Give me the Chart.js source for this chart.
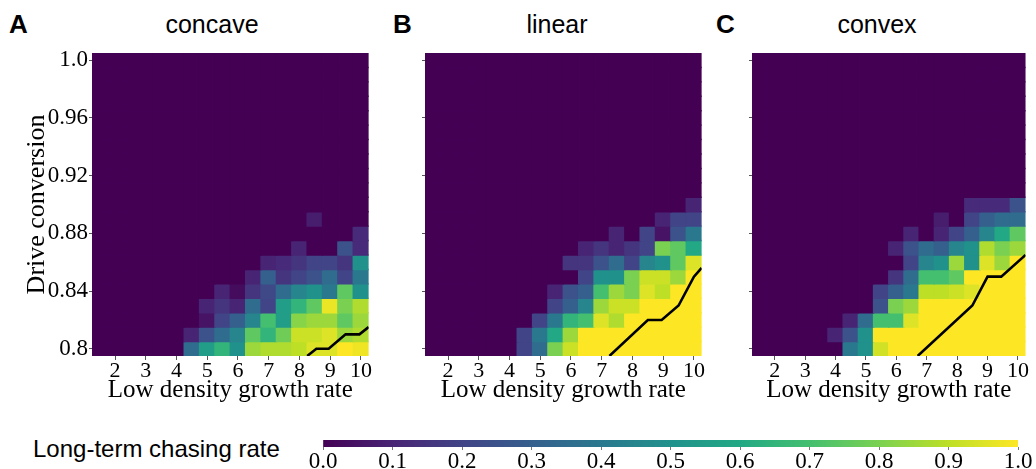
<!DOCTYPE html>
<html>
<head>
<meta charset="utf-8">
<script src="https://cdn.jsdelivr.net/npm/chart.js@4.4.1/dist/chart.umd.min.js"></script>
<style>
body{margin:0;background:#fff;width:1036px;height:469px;position:relative;overflow:hidden}
canvas{position:absolute}
.lbl{position:absolute;font-family:"Liberation Sans",Arial,sans-serif;white-space:nowrap;color:#000}
.letter{font-size:26px;line-height:26px;font-weight:bold;top:11px}
.ttl{font-size:25px;line-height:25px;top:12px;width:200px;text-align:center}
</style>
</head>
<body>
<div class="lbl letter" style="left:9px">A</div>
<div class="lbl letter" style="left:393px">B</div>
<div class="lbl letter" style="left:716px">C</div>
<div class="lbl ttl" style="left:112px">concave</div>
<div class="lbl ttl" style="left:457px">linear</div>
<div class="lbl ttl" style="left:777px">convex</div>
<div class="lbl" style="left:33px;top:437px;font-size:24px;line-height:24px">Long-term chasing rate</div>

<canvas id="chartA" width="372" height="410" style="left:0;top:0"></canvas>
<canvas id="chartB" width="325" height="410" style="left:380px;top:0"></canvas>
<canvas id="chartC" width="323" height="410" style="left:706px;top:0"></canvas>
<canvas id="cbar" width="736" height="33" style="left:300px;top:436px"></canvas>

<script>
// grid of the simulations
var xValues=[1.5,2,2.5,3,3.5,4,4.5,5,5.5,6,6.5,7,7.5,8,8.5,9,9.5,10];
var yValues=[0.80,0.81,0.82,0.83,0.84,0.85,0.86,0.87,0.88,0.89,0.90,0.91,0.92,0.93,0.94,0.95,0.96,0.97,0.98,0.99,1.00];
var xTicks=[2,3,4,5,6,7,8,9,10];
var xTickLabels=['2','3','4','5','6','7','8','9','10'];
var yTicks=[0.8,0.84,0.88,0.92,0.96,1.0];
var yTickLabels=['0.8','0.84','0.88','0.92','0.96','1.0'];
var cbTicks=[0,0.1,0.2,0.3,0.4,0.5,0.6,0.7,0.8,0.9,1.0];
var cbTickLabels=['0.0','0.1','0.2','0.3','0.4','0.5','0.6','0.7','0.8','0.9','1.0'];

// long-term chasing rate, one row per drive conversion (0.80 first)
var concaveRate=[
[0,0,0,0,0,0,0.35,0.55,0.65,0.5,0.85,0.88,0.88,0.9,0.95,0.95,1,0.98],
[0,0,0,0,0,0,0.1,0.25,0.35,0.45,0.75,0.65,0.78,0.92,0.92,0.95,0.85,0.88],
[0,0,0,0,0,0,0,0.05,0.2,0.3,0.45,0.7,0.55,0.82,0.85,0.85,0.75,0.85],
[0,0,0,0,0,0,0,0.1,0.15,0.1,0.35,0.2,0.55,0.65,0.75,0.97,0.8,0.88],
[0,0,0,0,0,0,0,0,0.1,0.03,0.15,0.22,0.35,0.45,0.5,0.4,0.75,0.5],
[0,0,0,0,0,0,0,0,0,0,0.1,0.3,0.15,0.2,0.25,0.35,0.2,0.4],
[0,0,0,0,0,0,0,0,0,0,0,0.1,0.12,0.15,0.2,0.2,0.15,0.5],
[0,0,0,0,0,0,0,0,0,0,0,0,0,0.1,0,0,0.25,0.12],
[0,0,0,0,0,0,0,0,0,0,0,0,0,0,0,0,0,0.12],
[0,0,0,0,0,0,0,0,0,0,0,0,0,0,0.08,0,0,0],
[0,0,0,0,0,0,0,0,0,0,0,0,0,0,0,0,0,0],
[0,0,0,0,0,0,0,0,0,0,0,0,0,0,0,0,0,0],
[0,0,0,0,0,0,0,0,0,0,0,0,0,0,0,0,0,0],
[0,0,0,0,0,0,0,0,0,0,0,0,0,0,0,0,0,0],
[0,0,0,0,0,0,0,0,0,0,0,0,0,0,0,0,0,0],
[0,0,0,0,0,0,0,0,0,0,0,0,0,0,0,0,0,0],
[0,0,0,0,0,0,0,0,0,0,0,0,0,0,0,0,0,0],
[0,0,0,0,0,0,0,0,0,0,0,0,0,0,0,0,0,0],
[0,0,0,0,0,0,0,0,0,0,0,0,0,0,0,0,0,0],
[0,0,0,0,0,0,0,0,0,0,0,0,0,0,0,0,0,0],
[0,0,0,0,0,0,0,0,0,0,0,0,0,0,0,0,0,0]
];
var linearRate=[
[0,0,0,0,0,0,0.2,0.35,0.8,0.92,1,1,1,1,1,1,1,1],
[0,0,0,0,0,0,0.2,0.4,0.6,0.85,1,1,1,1,1,1,1,1],
[0,0,0,0,0,0,0,0.2,0.4,0.65,0.7,0.95,0.88,1,1,1,1,1],
[0,0,0,0,0,0,0,0,0.2,0.3,0.45,0.85,0.92,0.92,1,1,1,1],
[0,0,0,0,0,0,0,0,0.1,0.25,0.3,0.7,0.85,0.8,0.95,0.9,1,1],
[0,0,0,0,0,0,0,0,0,0,0.2,0.5,0.5,0.8,0.92,0.92,0.85,1],
[0,0,0,0,0,0,0,0,0,0.15,0.15,0.25,0.35,0.2,0.45,0.5,0.75,0.95],
[0,0,0,0,0,0,0,0,0,0,0.1,0.15,0.1,0.15,0.2,0.8,0.75,0.6],
[0,0,0,0,0,0,0,0,0,0,0,0,0.1,0,0.2,0.05,0.25,0.4],
[0,0,0,0,0,0,0,0,0,0,0,0,0,0,0,0.1,0.2,0.2],
[0,0,0,0,0,0,0,0,0,0,0,0,0,0,0,0,0,0.1],
[0,0,0,0,0,0,0,0,0,0,0,0,0,0,0,0,0,0],
[0,0,0,0,0,0,0,0,0,0,0,0,0,0,0,0,0,0],
[0,0,0,0,0,0,0,0,0,0,0,0,0,0,0,0,0,0],
[0,0,0,0,0,0,0,0,0,0,0,0,0,0,0,0,0,0],
[0,0,0,0,0,0,0,0,0,0,0,0,0,0,0,0,0,0],
[0,0,0,0,0,0,0,0,0,0,0,0,0,0,0,0,0,0],
[0,0,0,0,0,0,0,0,0,0,0,0,0,0,0,0,0,0],
[0,0,0,0,0,0,0,0,0,0,0,0,0,0,0,0,0,0],
[0,0,0,0,0,0,0,0,0,0,0,0,0,0,0,0,0,0],
[0,0,0,0,0,0,0,0,0,0,0,0,0,0,0,0,0,0]
];
var convexRate=[
[0,0,0,0,0,0,0.4,0.5,0.93,1,1,1,1,1,1,1,1,1],
[0,0,0,0,0,0.1,0.25,0.5,1,1,1,1,1,1,1,1,1,1],
[0,0,0,0,0,0,0.1,0.35,0.7,0.7,0.95,1,1,1,1,1,1,1],
[0,0,0,0,0,0,0,0,0.25,0.8,0.85,1,1,1,1,1,1,1],
[0,0,0,0,0,0,0,0,0.2,0.3,0.4,0.9,0.9,0.92,0.95,1,1,1],
[0,0,0,0,0,0,0,0,0,0.15,0.35,0.7,0.7,0.75,1,1,1,1],
[0,0,0,0,0,0,0,0,0,0,0.2,0.45,0.5,0.85,0.5,0.95,0.85,1],
[0,0,0,0,0,0,0,0,0,0.1,0.25,0.35,0.3,0.45,0.5,0.88,0.8,0.85],
[0,0,0,0,0,0,0,0,0,0,0.1,0,0.1,0.2,0.3,0.45,0.6,0.75],
[0,0,0,0,0,0,0,0,0,0,0,0,0.08,0,0.2,0.3,0.35,0.35],
[0,0,0,0,0,0,0,0,0,0,0,0,0,0,0.12,0.12,0.12,0.25],
[0,0,0,0,0,0,0,0,0,0,0,0,0,0,0,0,0,0],
[0,0,0,0,0,0,0,0,0,0,0,0,0,0,0,0,0,0],
[0,0,0,0,0,0,0,0,0,0,0,0,0,0,0,0,0,0],
[0,0,0,0,0,0,0,0,0,0,0,0,0,0,0,0,0,0],
[0,0,0,0,0,0,0,0,0,0,0,0,0,0,0,0,0,0],
[0,0,0,0,0,0,0,0,0,0,0,0,0,0,0,0,0,0],
[0,0,0,0,0,0,0,0,0,0,0,0,0,0,0,0,0,0],
[0,0,0,0,0,0,0,0,0,0,0,0,0,0,0,0,0,0],
[0,0,0,0,0,0,0,0,0,0,0,0,0,0,0,0,0,0],
[0,0,0,0,0,0,0,0,0,0,0,0,0,0,0,0,0,0]
];

// black threshold lines
var concaveLineX=[8.25,8.55,8.95,9.5,9.95,10.25];
var concaveLineY=[0.795,0.80,0.80,0.81,0.81,0.815];
var linearLineX=[7.25,8.5,8.95,9.5,10.0,10.25];
var linearLineY=[0.795,0.82,0.82,0.83,0.85,0.856];
var convexLineX=[6.7,8.5,9.0,9.45,10.25];
var convexLineY=[0.795,0.83,0.85,0.85,0.865];

var viridisStops=['#440154','#482475','#414487','#355f8d','#2a788e','#21918c','#22a884','#44bf70','#7ad151','#bddf26','#fde725'];
function hexRgb(h){
    return [parseInt(h.substr(1,2),16),parseInt(h.substr(3,2),16),parseInt(h.substr(5,2),16)];
}
function viridis(t){
    t=Math.max(0,Math.min(1,t));
    var p=t*10;
    var i=Math.min(9,Math.floor(p));
    var f=p-i;
    var a=hexRgb(viridisStops[i]), b=hexRgb(viridisStops[i+1]);
    return 'rgb('+Math.round(a[0]+(b[0]-a[0])*f)+','+Math.round(a[1]+(b[1]-a[1])*f)+','+Math.round(a[2]+(b[2]-a[2])*f)+')';
}

var serif='"Liberation Serif","Times New Roman",serif';

function drawPanel(id,rates,lineX,lineY,yAxisWidth,showY){
    var cells=[];
    for(var i=0;i<yValues.length;i++){
        for(var j=0;j<xValues.length;j++){
            cells.push({x:xValues[j],y:[yValues[i]-0.005,yValues[i]+0.005],v:rates[i][j]});
        }
    }
    var line=[];
    for(var k=0;k<lineX.length;k++) line.push({x:lineX[k],y:lineY[k]});

    new Chart(document.getElementById(id),{
        type:'bar',
        data:{datasets:[
            {type:'line',data:line,borderColor:'#000',borderWidth:2.6,pointRadius:0,tension:0,order:0},
            {data:cells,backgroundColor:function(c){return viridis(c.raw.v)},borderWidth:0,inflateAmount:0.7,
             barPercentage:1,categoryPercentage:1,order:1}
        ]},
        options:{
            responsive:false,animation:false,events:[],
            layout:{padding:{top:53,right:2,left:0,bottom:0}},
            plugins:{legend:{display:false},tooltip:{enabled:false}},
            scales:{
                x:{type:'linear',min:1.25,max:10.25,offset:false,
                    afterBuildTicks:function(s){s.ticks=xTicks.map(function(v){return {value:v}})},
                    afterFit:function(s){s.height=54},
                    ticks:{callback:function(v,i){return xTickLabels[i]},color:'#000',padding:0,
                        maxRotation:0,autoSkip:false,font:{family:serif,size:22,lineHeight:1}},
                    grid:{drawOnChartArea:false,tickLength:4,color:'#555',offset:false},
                    border:{display:false},
                    title:{display:true,text:'Low density growth rate',color:'#000',
                        font:{family:serif,size:25},padding:{top:0,bottom:5}}
                },
                y:{type:'linear',min:0.795,max:1.005,beginAtZero:false,
                    afterBuildTicks:function(s){s.ticks=yTicks.map(function(v){return {value:v}})},
                    afterFit:function(s){s.width=yAxisWidth},
                    ticks:{callback:function(v,i){return showY?yTickLabels[i]:''},color:'#000',padding:1,
                        font:{family:serif,size:23}},
                    grid:{drawOnChartArea:false,tickLength:3,color:'#555'},
                    border:{display:false},
                    title:{display:showY,text:'Drive conversion',color:'#000',
                        font:{family:serif,size:26},padding:{top:22,bottom:0}}
                }
            }
        }
    });
}

drawPanel('chartA',concaveRate,concaveLineX,concaveLineY,92,true);
drawPanel('chartB',linearRate,linearLineX,linearLineY,45,false);
drawPanel('chartC',convexRate,convexLineX,convexLineY,46,false);

// colour bar
new Chart(document.getElementById('cbar'),{
    type:'bar',
    data:{labels:[''],datasets:[{
        data:[[0,1]],borderWidth:0,barPercentage:1,categoryPercentage:1,
        backgroundColor:function(c){
            var a=c.chart.chartArea;
            if(!a) return viridis(0.5);
            var g=c.chart.ctx.createLinearGradient(a.left,0,a.right,0);
            for(var k=0;k<=20;k++) g.addColorStop(k/20,viridis(k/20));
            return g;
        }
    }]},
    options:{
        indexAxis:'y',responsive:false,animation:false,events:[],
        layout:{padding:{left:23,right:18,top:4,bottom:0}},
        plugins:{legend:{display:false},tooltip:{enabled:false}},
        scales:{
            x:{type:'linear',min:0,max:1,
                afterBuildTicks:function(s){s.ticks=cbTicks.map(function(v){return {value:v}})},
                afterFit:function(s){s.height=22},
                ticks:{callback:function(v,i){return cbTickLabels[i]},color:'#000',padding:0,
                    maxRotation:0,autoSkip:false,font:{family:serif,size:23,lineHeight:1}},
                grid:{drawOnChartArea:false,tickLength:3,color:'#777'},
                border:{display:false}
            },
            y:{display:false}
        }
    }
});
</script>
</body>
</html>
